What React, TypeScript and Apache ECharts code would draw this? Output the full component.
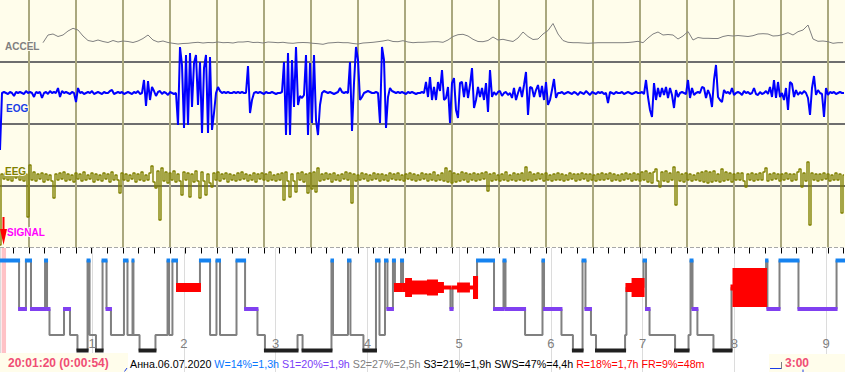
import React, { useEffect, useRef } from 'react';
import * as echarts from 'echarts';

// ---------- top window traces (seconds; a grid line every second) ----------
const TRACE_T0 = -29 / 47;
const TRACE_DT = 2 / 47;
const ACCEL_T0 = 14 / 47;
const ACCEL_DT = 5 / 47;

const accelValues = [
  -0.7, 7, 8, 5.5, 7, 11, 13.7, 12, 6, 1.5,
  0.5, 2, 0.5, -0.5, 1.5, 0, 1, 0.5, -0.5, 1,
  3.5, 7, 2, 0, 1, -0.5, -1.3, -2, -1.5, -1.3,
  -0.7, -0.3, -1, -0.5, -0.7, 0, -0.7, -0.5, -1, 0,
  0, 0.5, -0.5, -0.3, -1, 0, -0.3, -0.7, -0.3, -1,
  -1.3, -0.7, -0.5, -0.7, -1.3, -1.7, -2.3, -1, -0.7, -0.3,
  -0.7, -0.7, -1.5, -2, -1, -0.7, -0.3, 0.3, 1, 2,
  0.5, 0.3, 1.3, 0, -0.7, -0.3, -0.3, 0, 0.3, 0.3,
  -0.3, 2, 5.5, 7.3, 7.7, 6, 2.7, 0.5, 0.3, 1.5,
  5, 2, 2.7, 1.5, 0.5, 4, 10, 5.5, 2.5, 3,
  8, 11.5, 18.5, 8, 1.5, -0.3, -0.7, -0.7, -1, -1.3,
  -1, -0.7, -0.7, -0.7, -0.7, -0.7, -0.7, -0.5, 0, 0.7,
  -0.7, 4, 8, 10, 7, 7.5, 7, 3, 6, 10.5,
  2, 4.5, 3.7, 3.7, 3.5, 3.5, 5.5, 6.5, 6, 6.5,
  6, 5.5, 6.3, 8, 8.3, 8, 6, 6.3, 7.5, 9.3,
  7, 10.3, 12, 17, 3, 0.7, 1, 0.3, -1.3, -0.7,
  -0.7,
];

const eogValues = [
  -57, 0, 1, 0, -1, 1, 0, -3, 1, 0,
  1, 0, -1, 2, 0, 1, 0, -4, 1, 0,
  1, -5, 0, 1, -1, 2, 0, 1, 0, 5,
  -4, 2, 0, 1, 0, -1, 1, 0, -9, 5,
  0, 1, -1, 0, 1, 0, 2, -1, 0, 1,
  0, -1, 1, 0, 0, 2, 3, -1, 0, 1,
  0, 1, -1, 0, 1, 0, -1, 1, 0, 2,
  -1, 0, 13, -13, 12, -7, 6, 2, -3, 1,
  2, -1, 1, 0, -2, 1, 0, -1, 0, -32,
  46, 28, -35, 38, -32, 40, -14, 30, 38, -12,
  31, -40, 25, 38, -40, 36, -37, -20, 0, 6,
  2, 0, 1, 0, 1, 0, 0, 1, 0, 1,
  0, 1, 0, 0, 27, -20, -7, 0, 1, 0,
  1, 0, -1, 1, 0, 0, 1, 0, -1, 0,
  0, 1, 31, -42, 40, -42, 33, -14, 46, -12,
  -3, -5, -2, 38, -42, 30, -30, 38, -27, -42,
  -12, 0, 2, 1, 0, 1, 0, -1, 0, 1,
  5, 1, 0, 1, 0, 31, -38, 10, 46, 33,
  -7, -4, 0, 1, 2, 1, 0, 0, 1, 0,
  -30, 46, 33, -35, -4, 5, 2, 1, 0, 1,
  0, 1, 0, -1, 1, 0, 1, 0, -1, 0,
  0, 1, 0, 11, -4, 16, -7, 6, -7, 11,
  2, 23, -7, -5, 6, -30, 10, 15, -17, -25,
  10, 11, -4, 11, -5, 8, 25, -15, -7, 6,
  -4, 5, -7, 10, -19, 23, -4, 1, -2, 1,
  2, -3, 0, 1, -2, 0, -5, 5, -7, 0,
  6, -4, 8, 21, -22, 6, 5, -4, 3, 8,
  -4, 7, -7, 11, -12, -7, 3, 14, -5, 0,
  0, 1, -1, 0, 1, 0, -1, 1, 0, -2,
  1, 0, -1, 2, 0, -2, 1, 0, -1, 1,
  0, 1, -1, 0, -10, 1, 0, -1, 1, 0,
  0, 1, -1, 0, 1, 0, -1, 0, 1, 0,
  0, 1, -1, 13, -4, -17, -24, 10, -7, 5,
  -4, 5, -2, 6, -5, 5, -2, -15, 3, -4,
  0, 1, 0, -1, 13, -5, 5, -2, 0, 1,
  0, 6, 5, -5, 3, -2, -14, 13, 28, -4,
  -7, -9, 3, 0, 1, -1, 5, -2, 0, 1,
  0, -2, 2, 0, 1, -1, 0, 5, -1, -2,
  1, -1, 0, 2, -1, 6, -4, 13, -5, 11,
  -4, 0, -7, 5, -17, 11, 9, -4, 3, -2,
  1, -1, 2, 0, -5, -22, 5, 17, -2, 3,
  0, -1, -24, 5, -2, 1, 0, 1, -1, 0,
  1, 0, 0,
];

const eegValues = [
  -68, 3, -2, 4, -3, 2, -4, 3, -1, 4,
  -3, 2, -4, 3, -40, 12, -3, 5, -4, 3,
  -2, 4, -5, 3, -3, 2, -4, -21, 3, -3,
  4, -2, 5, -4, 3, -3, 2, -5, 4, -2,
  3, -4, 5, -3, 2, -2, 4, -5, 3, -3,
  2, -4, 4, -2, 3, -5, 5, -3, 2, -3,
  -16, 4, -3, 3, -4, 2, -2, 4, -5, 3,
  -3, 5, -4, 2, -3, 4, 11, -5, -11, 6,
  -43, 9, -4, 5, -6, 4, -3, 6, -5, 3,
  -4, -18, 5, -3, 4, -20, 3, -5, 6, -4,
  -21, 5, -4, -18, 3, -6, -10, 4, -3, 5,
  -4, 3, -2, 4, -5, 3, -3, 2, -4, 4,
  -3, 5, -2, 3, -4, 2, -3, 4, -5, 3,
  -2, 4, -3, 3, -4, 5, -3, 2, -4, 3,
  -3, 4, -23, 5, -4, -20, 3, -4, -15, 4,
  -3, 5, -5, 3, -16, 4, -12, 5, -15, 9,
  -4, 3, -3, 4, -2, 3, -5, 4, -3, 2,
  -4, 3, -2, 5, -3, 4, -26, 3, -4, 2,
  -3, 4, -2, 3, -4, 2, -3, 4, -2, 3,
  -4, 3, -3, 2, -4, 4, -2, 3, -3, 4,
  -3, 2, -4, 3, -2, 4, -3, 3, -4, 2,
  -3, 4, -2, 3, -4, 3, -3, 5, -4, 2,
  -3, 4, -4, 9, -5, 6, -6, 4, -5, 3,
  -4, 5, -3, 4, -5, 3, -3, 4, -4, 3,
  -3, 4, -2, 5, -14, 3, -4, 4, -3, 2,
  -4, 3, -3, 5, -4, 2, -3, 4, -4, 3,
  -3, 4, -4, 10, -3, 5, -4, 3, -3, 4,
  -2, 3, -4, 4, -3, 2, -4, 3, -3, 4,
  -3, 3, -4, 2, -3, 4, -2, 3, -4, 3,
  -3, 4, -2, 3, -4, 3, -3, 2, -4, 3,
  -3, 4, -3, 3, -2, 4, -4, 3, -3, 2,
  -4, 3, -3, 4, -2, 3, -4, 4, -3, 3,
  -4, 5, -3, 6, -5, 4, -6, 5, 8, -4,
  -10, 5, -4, 6, -5, 4, -3, 10, -28, 5,
  -4, 3, -5, 4, -3, 3, -4, 2, -3, 4,
  -4, 5, -5, 6, -6, 5, -5, 6, -4, 3,
  -5, 8, -4, 5, -3, 4, -5, 3, -3, 4,
  -3, 4, -4, -10, 3, -3, 4, -4, 3, -3,
  4, -3, 5, 9, -4, 3, -3, 4, -2, 3,
  -4, 3, -3, 4, -2, 3, -4, 3, -3, 5,
  8, -10, 4, -4, 15, -48, 4, -3, 3, -4,
  3, -3, 4, -2, 3, -4, 2, -3, 4, -3,
  3, -36, 2,
];

const channelLabels = ['ACCEL', 'EOG', 'EEG', 'SIGNAL'];

// ---------- hypnogram (minutes from start) ----------
const hypStartMin = [
  0, 12.3, 16.8, 20.1, 29.3, 30.6, 32.2, 41.7, 45.6, 50.5,
  57.1, 58.4, 62.6, 66.9, 69.5, 72.4, 80.9, 83.2, 86.5, 87.1,
  91.1, 101.5, 109.4, 110.4, 112.6, 115.6, 130.6, 137.2, 141.4, 143.7,
  154.5, 160.1, 168.2, 173.1, 194.4, 197.7, 216.6, 217.6, 227.4, 229.0,
  237.5, 245.7, 248.0, 251.6, 253.2, 256.8, 258.1, 262.1, 263.4, 265.4,
  268.6, 279.1, 279.7, 285.6, 289.5, 294.4, 295.8, 299.4, 302.6, 303.9,
  306.5, 309.8, 311.8, 322.9, 329.1, 330.4, 343.2, 354.6, 355.6, 367.0,
  374.5, 380.8, 382.7, 386.3, 389.6, 408.6, 409.5, 413.5, 420.7, 422.3,
  424.6, 441.3, 450.1, 451.4, 452.7, 455.9, 466.4, 478.2, 479.5, 491.9,
  500.8, 501.7, 509.6, 522.0, 546.9,
];
const hypStage = [
  'W', 'S1', 'W', 'S1', 'W', 'S1', 'S2', 'S1', 'S2', 'S3',
  'W', 'S2', 'S3', 'W', 'S1', 'S2', 'W', 'S2', 'W', 'S2',
  'S3', 'S2', 'W', 'S2', 'W', 'R', 'W', 'S2', 'W', 'S2',
  'W', 'S1', 'S2', 'S3', 'S2', 'S3', 'W', 'S2', 'W', 'S2',
  'S3', 'W', 'S2', 'W', 'S1', 'W', 'R', 'W', 'R', 'R',
  'R', 'R', 'R', 'R', 'R', 'S1', 'R', 'R', 'R', 'R',
  'R', 'R', 'W', 'S1', 'W', 'S1', 'S2', 'W', 'S1', 'S2',
  'S3', 'W', 'S1', 'S2', 'S3', 'S2', 'R', 'R', 'W', 'S1',
  'S2', 'S3', 'S2', 'W', 'S1', 'S2', 'S3', 'R', 'R', 'R',
  'W', 'S1', 'W', 'S1', 'W',
];
// REM density (bar height) of each R segment, in order
const remDensity = [9, 9, 9, 19, 14, 8, 16, 11, 4, 4, 10, 4, 10, 4, 23, 9, 19, 6, 39, 39];
const HYP_END_MIN = 552.4;
const CURSOR_START_S = 54;
const CURSOR_END_S = 227;

const cursorText = '20:01:20 (0:00:54)';
const windowEndText = '3:00';
const statusParts: [string, string][] = [
  ['Анна.06.07.2020', 'k'],
  ['W=14%=1,3h', 'w'],
  ['S1=20%=1,9h', 's1'],
  ['S2=27%=2,5h', 's2'],
  ['S3=21%=1,9h', 'k'],
  ['SWS=47%=4,4h', 'k'],
  ['R=18%=1,7h', 'r'],
  ['FR=9%=48m', 'r'],
];

// ---------- styles / layout ----------
const STAGES = ['W', 'R', 'S1', 'S2', 'S3'];
const STAGE_DEPTH: Record<string, number> = { W: 12.5, R: 39.5, S1: 61, S2: 87, S3: 102.5 };
const STAGE_COLOR = ['#1683f0', '#ff0000', '#8040f0', '#808080', '#202020'];
const BAR_THICK = 4;
const FONT = '"Liberation Sans", Arial, sans-serif';
const STATUS_FS = 10.7;

export default function App() {
  const ref = useRef<HTMLDivElement>(null);

  useEffect(() => {
    if (!ref.current) return;
    const chart = echarts.init(ref.current, undefined, { renderer: 'svg' });

    const toTrace = (vals: number[], t0: number, dt: number) => vals.map((v, i) => [t0 + i * dt, v]);

    let ri = 0;
    const segs = hypStartMin.map((s, i) => {
      const st = hypStage[i];
      const e = i + 1 < hypStartMin.length ? hypStartMin[i + 1] : HYP_END_MIN;
      const thick = st === 'R' ? remDensity[ri++] : st === 'S2' ? 0 : BAR_THICK;
      return [s / 60, e / 60, STAGE_DEPTH[st], thick, STAGES.indexOf(st)];
    });
    const stepData = hypStartMin.map((s, i) => [s / 60, STAGE_DEPTH[hypStage[i]]]);
    stepData.push([HYP_END_MIN / 60, STAGE_DEPTH[hypStage[hypStage.length - 1]]]);

    const topX = { min: -1, max: 18, interval: 1, type: 'value' as const };
    const hiddenX = (gi: number) => ({ ...topX, gridIndex: gi, show: false });
    const hiddenY = (gi: number, min: number, max: number) => ({ type: 'value' as const, gridIndex: gi, min, max, show: false });
    const gridBase = { left: -18, right: -30, containLabel: false, outerBoundsMode: 'none' };

    const mk = (c: string) => ({ fill: c, fontSize: STATUS_FS, fontFamily: FONT });
    const rich: any = { k: mk('#000000'), w: mk('#0a78ff'), s1: mk('#7a40f8'), s2: mk('#808080'), r: mk('#ff0000') };

    const labelColors = ['#808080', '#1a3ce6', '#808000', '#ff00ff'];
    const labelY = [46.5, 108.5, 171, 232.5];
    const labelX = [5, 6, 5, 7];

    chart.setOption({
      animation: false,
      backgroundColor: '#ffffff',
      grid: [
        { ...gridBase, top: 0, height: 247.5, show: true, backgroundColor: '#fffdeb', borderWidth: 0 },
        { ...gridBase, top: 0, height: 62 },
        { ...gridBase, top: 62, height: 62 },
        { ...gridBase, top: 146, height: 62 },
        { left: 0.25, right: -72.75, top: 248, height: 124, containLabel: false, outerBoundsMode: 'none' },
      ],
      xAxis: [
        {
          ...topX,
          gridIndex: 0,
          position: 'top',
          axisLine: { show: false },
          axisLabel: { show: false },
          axisTick: { show: true, inside: true, length: 6, lineStyle: { color: '#000', width: 1 } },
          minorTick: { show: true, splitNumber: 3, length: 6, lineStyle: { color: '#000', width: 1 } },
          splitLine: { show: true, lineStyle: { color: '#aaa87e', width: 2 } },
        },
        hiddenX(1),
        hiddenX(2),
        hiddenX(3),
        {
          type: 'value',
          gridIndex: 4,
          min: 0,
          max: 10,
          interval: 1,
          position: 'bottom',
          axisLine: { show: false },
          axisTick: { show: false },
          axisLabel: {
            show: true,
            inside: true,
            margin: 29,
            verticalAlign: 'middle',
            color: '#808080',
            fontSize: 13,
            fontFamily: FONT,
            showMinLabel: false,
            showMaxLabel: false,
          },
          splitLine: { show: true, lineStyle: { color: '#dcdcdc', width: 1 } },
        },
      ],
      yAxis: [
        {
          type: 'value',
          gridIndex: 0,
          min: 0,
          max: 4,
          interval: 1,
          axisLine: { show: false },
          axisTick: { show: false },
          axisLabel: { show: false },
          splitLine: { show: true, showMinLine: false, showMaxLine: false, lineStyle: { color: '#6e6e6e', width: 2 } },
        },
        hiddenY(1, -20, 42),
        hiddenY(2, -31, 31),
        hiddenY(3, -31, 31),
        { type: 'value', gridIndex: 4, min: 0, max: 124, inverse: true, show: false },
      ],
      series: [
        {
          name: 'ACCEL',
          type: 'line',
          xAxisIndex: 1,
          yAxisIndex: 1,
          data: toTrace(accelValues, ACCEL_T0, ACCEL_DT),
          symbol: 'none',
          clip: false,
          lineStyle: { color: '#808080', width: 1 },
        },
        {
          name: 'EEG',
          type: 'line',
          xAxisIndex: 3,
          yAxisIndex: 3,
          step: 'middle',
          data: toTrace(eegValues, TRACE_T0, TRACE_DT),
          symbol: 'none',
          clip: false,
          lineStyle: { color: '#808000', width: 1.4 },
        },
        {
          name: 'EOG',
          type: 'line',
          xAxisIndex: 2,
          yAxisIndex: 2,
          data: toTrace(eogValues, TRACE_T0, TRACE_DT),
          symbol: 'none',
          clip: false,
          lineStyle: { color: '#0000ff', width: 2 },
        },
        {
          name: 'hypnogram',
          type: 'line',
          xAxisIndex: 4,
          yAxisIndex: 4,
          step: 'end',
          z: 2,
          data: stepData,
          symbol: 'none',
          clip: false,
          lineStyle: { color: '#808080', width: 2 },
          markArea: {
            silent: true,
            itemStyle: { color: '#ffc2c6' },
            data: [[{ xAxis: CURSOR_START_S / 3600 }, { xAxis: CURSOR_END_S / 3600 }]],
          },
        },
        {
          name: 'stages',
          type: 'custom',
          xAxisIndex: 4,
          yAxisIndex: 4,
          z: 5,
          encode: { x: [0, 1], y: 2 },
          data: segs,
          renderItem: (params: any, api: any) => {
            const stage = api.value(4);
            if (STAGES[stage] === 'S2') return null;
            const s = api.coord([api.value(0), api.value(2)]);
            const e = api.coord([api.value(1), api.value(2)]);
            const h = Math.abs(api.size([0, api.value(3)])[1]);
            return {
              type: 'rect',
              shape: { x: s[0] - 1, y: s[1] - h / 2, width: Math.max(e[0] - s[0] + 2, 2), height: h },
              style: { fill: STAGE_COLOR[stage] },
            };
          },
        },
      ],
      graphic: [
        {
          type: 'line',
          z: 100,
          shape: { x1: 0, y1: 247.5, x2: 845, y2: 247.5 },
          style: { stroke: '#a8a8a8', lineWidth: 1, lineDash: [4, 2] },
        },
        ...channelLabels.map((t, i) => ({
          type: 'text',
          z: 100,
          x: labelX[i],
          y: labelY[i],
          style: {
            text: t,
            fill: labelColors[i],
            font: `bold 10px ${FONT}`,
            verticalAlign: 'middle',
            stroke: '#fffdeb',
            lineWidth: 2,
          },
        })),
        {
          type: 'line',
          z: 100,
          shape: { x1: 3.5, y1: 217, x2: 3.5, y2: 230 },
          style: { stroke: '#ff0000', lineWidth: 2 },
        },
        {
          type: 'polygon',
          z: 100,
          shape: { points: [[0, 229], [7, 229], [3.5, 245]] },
          style: { fill: '#ff0000' },
        },
        { type: 'rect', z: 100, shape: { x: 0, y: 353, width: 128, height: 19 }, style: { fill: '#fffdeb' } },
        {
          type: 'text',
          z: 101,
          x: 8,
          y: 363,
          style: { text: cursorText, fill: '#f04e74', font: `bold 12px ${FONT}`, verticalAlign: 'middle' },
        },
        {
          type: 'text',
          z: 101,
          x: 130,
          y: 363.5,
          style: {
            text: statusParts.map(([t, k]) => `{${k}|${t}}`).join(' '),
            rich,
            fill: '#000',
            font: `${STATUS_FS}px ${FONT}`,
            verticalAlign: 'middle',
          },
        },
        { type: 'line', z: 101, shape: { x1: 124.5, y1: 371.5, x2: 127, y2: 368 }, style: { stroke: '#1a3ce6', lineWidth: 1 } },
        { type: 'rect', z: 100, shape: { x: 769, y: 354, width: 76, height: 18 }, style: { fill: '#fffdeb' } },
        { type: 'line', z: 101, shape: { x1: 770, y1: 368.5, x2: 782, y2: 368.5 }, style: { stroke: '#1a3ce6', lineWidth: 1 } },
        { type: 'line', z: 101, shape: { x1: 781.5, y1: 362, x2: 781.5, y2: 369 }, style: { stroke: '#808080', lineWidth: 1 } },
        { type: 'line', z: 101, shape: { x1: 803, y1: 369.5, x2: 803, y2: 372 }, style: { stroke: '#1a3ce6', lineWidth: 1 } },
        {
          type: 'text',
          z: 101,
          x: 785,
          y: 363,
          style: { text: windowEndText, fill: '#f04e74', font: `bold 12px ${FONT}`, verticalAlign: 'middle' },
        },
      ],
    });

    return () => chart.dispose();
  }, []);

  return <div ref={ref} style={{ position: 'fixed', left: 0, top: 0, width: 845, height: 372 }} />;
}
